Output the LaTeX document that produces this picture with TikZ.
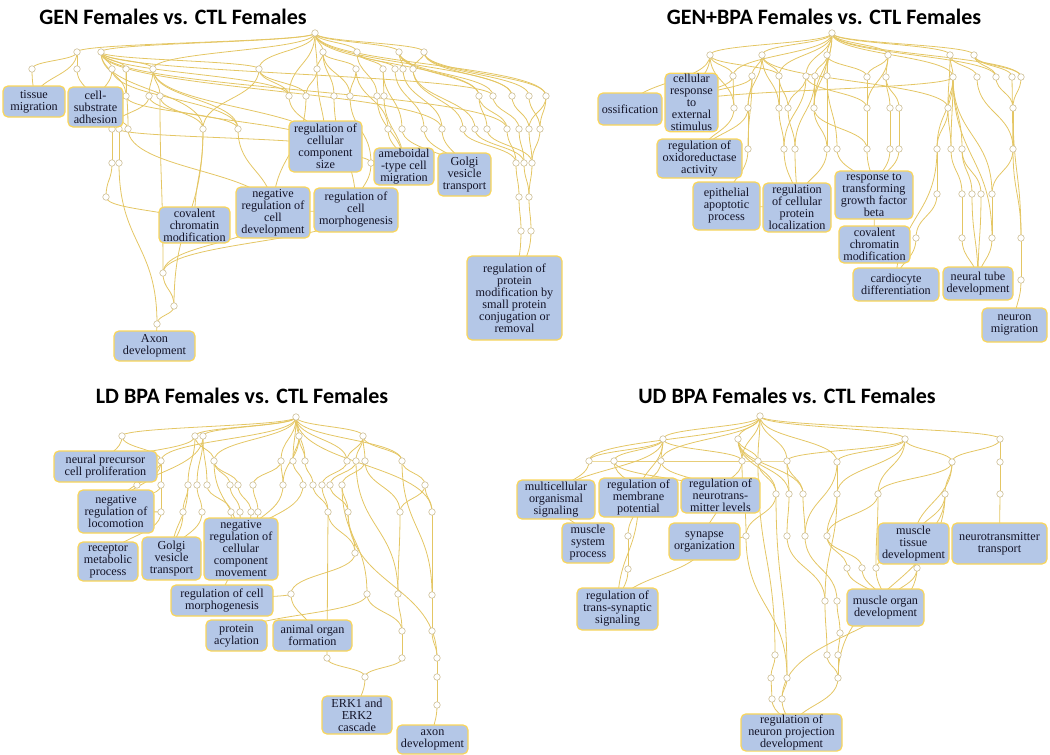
\documentclass[tikz,border=0pt]{standalone}
\usepackage{fontspec}
\setmainfont{Liberation Serif}
\newfontfamily\titlefont{Carlito}
\usetikzlibrary{calc,backgrounds}
\definecolor{edgecol}{RGB}{228,198,100}
\definecolor{boxfill}{RGB}{180,199,231}
\definecolor{boxline}{RGB}{250,214,90}
\definecolor{dotline}{RGB}{205,190,150}
\definecolor{txtcol}{RGB}{20,20,40}
\tikzset{
 edge/.style={draw=edgecol, line width=0.8pt},
 dot/.style={circle, draw=dotline, fill=white, line width=0.6pt, minimum size=6.5pt, inner sep=0pt},
 box/.style={rectangle, rounded corners=5pt, fill=boxfill, draw=boxline, line width=1.2pt, align=center, inner sep=1pt, text=txtcol, font=\fontsize{12.2}{12}\selectfont},
 title/.style={font=\titlefont\bfseries\fontsize{22}{26}\selectfont, text=black}
}
\newcommand\ed[2]{\draw[edge] let \p1=(#1), \p2=(#2) in (\p1) .. controls (\x1,{0.5*(\y1+\y2)}) and (\x2,{0.5*(\y1+\y2)}) .. (\p2);}
\newcommand\bx[6]{\node[box, minimum width={#4-#2}, minimum height={#5-#3}] (#1) at ({(#2+#4)/2},{(#3+#5)/2}) {#6};}
\begin{document}
\begin{tikzpicture}[x=1pt,y=-1pt]
\useasboundingbox (0,0) rectangle (1050,755);
% titles
\node[title] (t1) at (173,17) {GEN Females vs. CTL Females};
\node[title] (t2) at (824,17) {GEN+BPA Females vs. CTL Females};
\node[title] (t3) at (242,396) {LD BPA Females vs. CTL Females};
\node[title] (t4) at (787,396) {UD BPA Females vs. CTL Females};

% ---------------- panel 1 ----------------
\foreach \n/\x/\y in {a0/315/33, a1/77/52, a2/101/52, a3/323/52, a4/357/52, a5/399/52, a6/424/52,
 a7/32/69, a8/77/69, a9/112/69, a10/126/69, a11/153/69, a12/259/69, a13/317/69, a14/356/69, a15/383/69, a16/395/69, a17/403/69, a18/413/69,
 a19/126/96, a20/149/96, a21/160/96, a22/289/96, a23/306/96, a24/334/96, a25/350/96, a26/377/96, a27/384/96, a28/479/96, a29/493/96, a30/512/96, a31/529/96, a32/546/96,
 a33/112/129, a34/119/129, a35/128/129, a36/203/129, a37/238/129, a38/388/129, a39/402/129, a40/424/129, a41/442/129, a42/463/129, a43/475/129, a44/487/129, a45/507/129, a46/519/129, a47/529/129, a48/540/129,
 a49/112/163, a50/119/163, a51/371/163, a52/516/163, a53/524/163, a54/532/163,
 a55/106/197, a56/519/197, a57/529/197, a58/521/231, a59/531/231, a60/163/273, a61/174/306, a62/157/324}
 {\node[dot] (\n) at (\x,\y) {};}
\bx{tm}{3}{86}{65}{117}{tissue\\migration}
\bx{csa}{68}{87}{123}{127}{cell-\\substrate\\adhesion}
\bx{rccs}{289}{121}{362}{172}{regulation of\\cellular\\component\\size}
\bx{atcm}{374}{150}{434}{183}{ameboidal\\-type cell\\migration}
\bx{gvt}{438}{153}{491}{196}{Golgi\\vesicle\\transport}
\bx{rcm}{314}{188}{398}{232}{regulation of\\cell\\morphogenesis}
\bx{nrcd}{236}{187}{310}{238}{negative\\regulation of\\cell\\development}
\bx{ccm}{159}{207}{230}{243}{covalent\\chromatin\\modification}
\bx{axd}{114}{331}{195}{361}{Axon\\development}
\bx{rpm}{467}{256}{562}{340}{regulation of\\protein\\modification by\\small protein\\conjugation or\\removal}

% ---------------- panel 2 ----------------
\foreach \n/\x/\y in {b0/832/33, b1/710/55, b2/762/55, b3/827/55, b4/888/55, b5/950/55, b6/974/55,
 b7/733/76, b8/752/76, b9/779/76, b10/806/76, b11/815/76, b12/827/76, b13/867/77, b14/886/77, b15/953/77, b16/977/77, b17/996/77, b18/1012/77, b19/1021/77,
 b20/734/108, b21/748/108, b22/779/108, b23/788/108, b24/814/108, b25/867/108, b26/890/108, b27/899/108, b28/948/108, b29/1013/108,
 b30/748/149, b31/784/149, b32/795/149, b33/827/149, b34/837/149, b35/867/149, b36/890/149, b37/899/149, b38/937/149, b39/951/149, b40/962/149, b41/1013/149,
 b42/937/194, b43/962/194, b44/972/194, b45/981/194, b46/992/194,
 b47/916/238, b48/962/238, b49/992/238, b50/1021/238, b51/1021/280}
 {\node[dot] (\n) at (\x,\y) {};}
\bx{oss}{598}{93}{662}{125}{ossification}
\bx{cres}{665}{75}{718}{130}{cellular\\response\\to\\external\\stimulus}
\bx{rox}{657}{139}{742}{178}{regulation of\\oxidoreductase\\activity}
\bx{eap}{693}{182}{760}{230}{epithelial\\apoptotic\\process}
\bx{rcpl}{763}{183}{831}{232}{regulation\\of cellular\\protein\\localization}
\bx{rtgf}{835}{171}{913}{219}{response to\\transforming\\growth factor\\beta}
\bx{ccmb}{839}{226}{910}{263}{covalent\\chromatin\\modification}
\bx{card}{853}{268}{939}{301}{cardiocyte\\differentiation}
\bx{ntd}{943}{267}{1013}{300}{neural tube\\development}
\bx{nm}{982}{308}{1047}{342}{neuron\\migration}

% ---------------- panel 3 ----------------
\foreach \n/\x/\y in {c0/296/417, c1/122/436, c2/195/436, c3/203/436, c4/299/436, c5/363/436,
 c6/161/461, c7/214/461, c8/281/461, c9/293/461, c10/305/461, c11/347/461, c12/356/461, c13/365/461, c50/402/461,
 c14/137/485, c15/161/485, c16/188/485, c17/197/485, c18/207/485, c19/230/485, c20/238/485, c21/253/485, c22/283/485, c23/303/485, c24/313/485, c25/322/485, c26/330/485, c27/342/485, c51/425/485,
 c28/161/512, c29/183/512, c30/202/512, c31/231/512, c32/240/512, c33/251/512, c34/258/512, c35/328/512, c36/348/512, c52/432/512, c53/400/512,
 c37/355/553, c38/291/594, c39/367/594, c40/398/594, c41/432/595, c42/402/631, c43/432/631, c44/327/658, c45/402/658, c46/437/658, c47/365/677, c48/437/677, c49/437/705}
 {\node[dot] (\n) at (\x,\y) {};}
\bx{npcp}{54}{451}{157}{482}{neural precursor\\cell proliferation}
\bx{nrl}{78}{490}{154}{533}{negative\\regulation of\\locomotion}
\bx{rmpc}{78}{542}{138}{581}{receptor\\metabolic\\process}
\bx{gvtc}{142}{537}{201}{580}{Golgi\\vesicle\\transport}
\bx{nrccm}{204}{518}{278}{580}{negative\\regulation of\\cellular\\component\\movement}
\bx{rcmc}{171}{585}{273}{616}{regulation of cell\\morphogenesis}
\bx{pa}{206}{620}{267}{651}{protein\\acylation}
\bx{aof}{273}{620}{352}{651}{animal organ\\formation}
\bx{erk}{322}{696}{392}{734}{ERK1 and\\ERK2\\cascade}
\bx{axdc}{397}{725}{468}{754}{axon\\development}

% ---------------- panel 4 ----------------
\foreach \n/\x/\y in {d0/760/416, d1/663/439, d2/738/439, d3/905/439, d4/1000/439,
 d5/589/461, d6/614/461, d7/661/461, d8/742/461, d9/758/461, d10/787/461, d11/837/462, d12/952/462, d13/1000/462,
 d14/776/494, d15/789/494, d16/803/494, d17/837/494, d18/878/494, d19/945/494, d20/1000/494,
 d21/628/536, d22/746/536, d23/787/536, d24/805/536, d25/827/536,
 d26/628/569, d27/847/568, d28/862/568, d29/876/568, d30/917/568,
 d31/825/601, d32/837/601, d33/840/633, d34/775/655, d35/827/655, d36/838/655,
 d37/771/678, d38/787/678, d39/838/678, d40/772/699, d41/782/699}
 {\node[dot] (\n) at (\x,\y) {};}
\bx{mos}{517}{480}{595}{519}{multicellular\\organismal\\signaling}
\bx{rmpd}{599}{478}{678}{517}{regulation of\\membrane\\potential}
\bx{rntl}{681}{478}{760}{513}{regulation of\\neurotrans-\\mitter levels}
\bx{msp}{562}{523}{614}{563}{muscle\\system\\process}
\bx{so}{669}{523}{740}{560}{synapse\\organization}
\bx{rtss}{577}{588}{658}{630}{regulation of\\trans-synaptic\\signaling}
\bx{mtd}{878}{523}{949}{564}{muscle\\tissue\\development}
\bx{ntt}{952}{523}{1047}{564}{neurotransmitter\\transport}
\bx{mod}{847}{589}{924}{626}{muscle organ\\development}
\bx{rnpd}{741}{714}{842}{751}{regulation of\\neuron projection\\development}

\begin{pgfonlayer}{background}
% panel 1 edges
\foreach \u/\v in {a0/a1, a0/a2, a0/a3, a0/a4, a0/a5, a0/a6, a0/a12, a0/a13, a0/a11, a0/a22, a0/a28, a0/a32, a0/a30,
 a1/a7, a1/a8, a1/tm, a8/csa, a7/tm,
 a2/a9, a2/a10, a2/a11, a2/a12, a2/a19, a2/a22, a2/a36, a2/a29, a2/a41, a2/a45,
 a9/csa, a10/a19, a10/a35, a11/a20, a11/a21, a11/a37, a11/rccs,
 a12/a22, a12/a36, a12/a23,
 a3/a13, a3/a14, a3/a24, a3/a25,
 a4/a15, a4/a16, a4/a26,
 a5/a17, a5/a18, a5/a28, a5/a29,
 a6/a30, a6/a31, a6/a32, a6/a18,
 a13/rccs, a13/a23, a14/a38, a14/a25, a15/a39, a16/a40, a17/a41, a18/a42, a18/a43,
 a19/csa, a20/a33, a21/a60, a21/a36,
 a22/rccs, a23/nrcd, a24/rcm, a25/a51, a26/atcm, a27/atcm, a15/a27,
 a28/a44, a28/a45, a29/a46, a30/a47, a31/a48, a32/a48, a32/a47,
 a36/ccm, a37/nrcd, a38/atcm, a39/gvt, a40/gvt, a41/gvt, a42/a52, a43/a53, a44/a54, a45/a52, a46/a53, a47/a54, a48/a54,
 a52/a56, a53/a57, a54/a57, a56/a58, a57/a59, a58/rpm, a59/rpm,
 csa/a33, csa/a34, csa/a35, a33/a49, a34/a50, a49/a55, a50/a62, a55/ccm, a62/axd, a61/a62, a60/a61, a36/a61,
 a34/rccs, a35/nrcd, a9/a37, a19/a37, a20/rccs, rcm/a60, a51/rcm, a51/rccs, a60/nrcd, nrcd/rcm}
 {\ed{\u}{\v}}
% panel 2 edges
\foreach \u/\v in {b0/b1, b0/b2, b0/b3, b0/b4, b0/b5, b0/b6, b0/b9, b0/b10, b0/b12, b0/b15, b0/b17, b0/b19, b0/b7, b0/b24,
 b1/b7, b1/cres, b1/b20, b1/oss, b1/b9, b2/b8, b2/b9, b2/b21, b2/b22, b2/b28,
 b3/b11, b3/b12, b3/b24, b3/b13, b4/b13, b4/b14, b4/b25, b5/b15, b5/b16, b5/b28, b6/b17, b6/b18, b6/b19,
 b7/cres, b7/b20, b8/b21, b8/b30, b9/b22, b9/b23, b10/b23, b10/b31, b11/b24, b11/b32, b12/b33, b12/b34,
 b13/b25, b14/b26, b14/b27, b15/b28, b15/b38, b15/b39, b15/b40, b16/b41, b17/b29, b18/b41, b19/b29,
 b20/rox, b21/b30, b22/b31, b23/b32, b24/b33, b25/b35, b26/b36, b27/b37,
 b28/b38, b28/b39, b29/b41, b29/b50,
 b30/eap, b31/rcpl, b32/rcpl, b33/rcpl, b34/rtgf, b35/rtgf, b36/rtgf, b37/rtgf,
 b38/b42, b38/card, b39/b43, b40/b44, b40/b45, b41/b50, b41/b46,
 b42/b47, b43/b48, b44/ntd, b45/ntd, b46/b49, b47/card, b48/ntd, b49/ntd, b50/b51, b51/nm,
 rtgf/ccmb, cres/b8, cres/b15, rox/b21, eap/rcpl, b15/b46, b15/b49, b24/b35, b10/b25}
 {\ed{\u}{\v}}
% panel 3 edges
\foreach \u/\v in {c0/c1, c0/c2, c0/c3, c0/c4, c0/c5, c0/c8, c0/c9, c0/c10, c0/c7, c0/c11, c0/c50, c0/c6, c0/c52,
 c1/npcp, c1/c6, c2/c7, c2/c16, c2/npcp, c3/c17, c3/c18, c3/nrl, c4/c9, c4/c10, c4/c22, c5/c11, c5/c12, c5/c13, c5/c50,
 c6/c14, c6/c15, c6/nrl, c7/c19, c7/c20, c7/nrccm, c8/c21, c8/c22, c9/c23, c10/c24, c11/c25, c12/c26, c13/c27, c50/c51,
 c14/npcp, c15/nrl, c16/c29, c17/c30, c18/c31, c19/c32, c20/c33, c21/c34, c22/nrccm, c23/nrccm, c24/c35, c25/c35, c26/c36, c27/c36, c51/c52, c51/c53,
 c28/nrl, c15/c28, c28/rmpc, c29/gvtc, c30/gvtc, c16/gvtc, c31/nrccm, c32/nrccm, c33/nrccm, c34/nrccm,
 c35/c37, c36/c37, c37/c38, c38/rcmc, nrccm/rcmc, c38/aof,
 c39/pa, c39/c42, c40/c42, c42/c45, c45/c47, c44/c47, c47/erk, c41/c43, c43/c46, c46/c48, c48/c49, c49/axdc,
 c53/c40, c52/c41, c35/c44, c27/c39, c12/c40, c50/c41, c36/c46, c13/c53}
 {\ed{\u}{\v}}
% panel 4 edges
\foreach \u/\v in {d0/d1, d0/d2, d0/d3, d0/d4, d0/d8, d0/d9, d0/d10, d0/d11, d0/d5, d0/d7,
 d1/d5, d1/d6, d1/d7, d1/rmpd, d1/d8, d1/mos, d2/d8, d2/d9, d2/d15, d2/d16, d2/d14,
 d3/d11, d3/d12, d3/d17, d3/d18, d3/d10, d4/d13, d4/d12,
 d5/mos, d5/d8, d6/rmpd, d6/rntl, d6/d10, d7/rmpd, d7/rntl, d8/rntl, d8/d22, d9/d14, d10/d15, d10/d16, d11/d17, d11/d24,
 d12/d18, d12/d19, d12/mtd, d13/d20, d20/ntt,
 d14/d22, d15/d23, d16/d24, d17/d25, d18/d25, d19/mtd, d19/d30,
 d21/rmpd, d21/d26, d26/rtss, rmpd/rtss, so/rtss, rntl/so, d22/so, d23/d31, d24/d32, d25/d27, d25/d28, d27/mod, d28/mod, d29/mtd, d29/mod, d30/mod,
 d31/d35, d32/d33, d33/d36, d35/d39, d36/d39, d39/rnpd, d34/d37, d37/d40, d38/d41, d40/rnpd, d41/rnpd,
 d41/d30, d39/d19, d9/d34, d14/d38, d22/d38, mos/msp, d18/d29, d17/d31}
 {\ed{\u}{\v}}
\end{pgfonlayer}
\end{tikzpicture}
\end{document}
